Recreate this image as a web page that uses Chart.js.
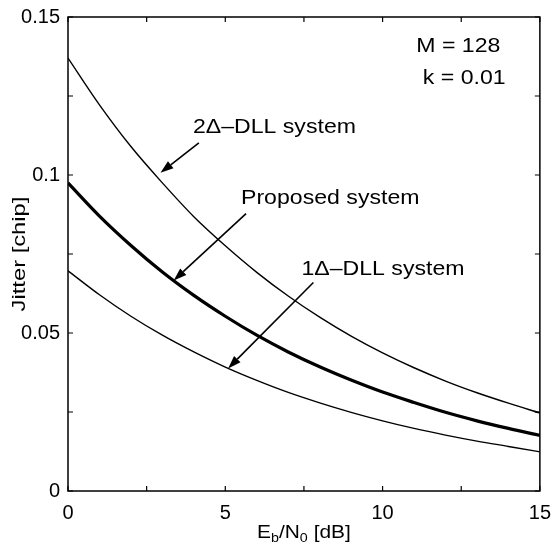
<!DOCTYPE html>
<html>
<head>
<meta charset="utf-8">
<script src="https://cdn.jsdelivr.net/npm/chart.js@4.4.1/dist/chart.umd.min.js"></script>
<style>
  html, body { margin: 0; padding: 0; background: #fff; }
  #wrap { width: 553px; height: 547px; }
</style>
</head>
<body>
<div id="wrap"><canvas id="myChart"></canvas></div>
<script>
// Eb/N0 [dB]
var ebno = [0, 1, 2, 3, 4, 5, 6, 7, 8, 9, 10, 11, 12, 13, 14, 15];
// jitter [chip]
var dll2 = [0.1370, 0.1222, 0.1090, 0.0975, 0.0868, 0.0776, 0.0692, 0.0617, 0.0550, 0.0490, 0.0437, 0.0390, 0.0348, 0.0311, 0.0278, 0.0247];
var proposed = [0.0975, 0.0870, 0.0777, 0.0693, 0.0619, 0.0553, 0.0493, 0.0440, 0.0393, 0.0351, 0.0313, 0.0280, 0.0249, 0.0222, 0.0198, 0.0176];
var dll1 = [0.0697, 0.0621, 0.0553, 0.0493, 0.0440, 0.0392, 0.0350, 0.0312, 0.0279, 0.0249, 0.0222, 0.0198, 0.0177, 0.0158, 0.0141, 0.0124];

var xTicks = [0, 2.5, 5, 7.5, 10, 12.5, 15];
var yTicks = [0, 0.025, 0.05, 0.075, 0.1, 0.125, 0.15];

var FONT = '"Liberation Sans", Arial, Helvetica, sans-serif';

// text labels and arrows, in data units
var notes = [
  {text: 'M = 128', x: 11.07, y: 0.1408},
  {text: 'k = 0.01', x: 11.28, y: 0.1305},
  {text: '2\u0394\u2013DLL system', x: 3.97, y: 0.1150},
  {text: 'Proposed system', x: 5.50, y: 0.0925},
  {text: '1\u0394\u2013DLL system', x: 7.42, y: 0.0702}
];
var arrows = [
  {from: [4.16, 0.1102], to: [2.94, 0.1007]},
  {from: [5.66, 0.0878], to: [3.36, 0.0666]},
  {from: [7.80, 0.0660], to: [5.09, 0.0388]}
];

function toPts(ys) {
  return ebno.map(function(x, i) { return {x: x, y: ys[i]}; });
}

function stretchedText(ctx, str, x, y, sx) {
  ctx.save();
  ctx.translate(x, y);
  ctx.scale(sx, 1);
  ctx.fillText(str, 0, 0);
  ctx.restore();
}

var decor = {
  id: 'decor',
  afterDatasetsDraw: function(chart) {
    var ctx = chart.ctx, a = chart.chartArea;
    var xs = chart.scales.x, ys = chart.scales.y;
    ctx.save();
    ctx.strokeStyle = '#000';
    ctx.fillStyle = '#000';

    // box
    ctx.lineWidth = 1.5;
    ctx.strokeRect(a.left, a.top, a.right - a.left, a.bottom - a.top);

    // inward ticks on all four sides
    ctx.lineWidth = 1.2;
    ctx.beginPath();
    xTicks.forEach(function(v) {
      var px = xs.getPixelForValue(v);
      ctx.moveTo(px, a.bottom); ctx.lineTo(px, a.bottom - 5);
      ctx.moveTo(px, a.top); ctx.lineTo(px, a.top + 5);
    });
    yTicks.forEach(function(v) {
      var py = ys.getPixelForValue(v);
      ctx.moveTo(a.left, py); ctx.lineTo(a.left + 5, py);
      ctx.moveTo(a.right, py); ctx.lineTo(a.right - 5, py);
    });
    ctx.stroke();

    // notes
    ctx.font = '21px ' + FONT;
    ctx.textBaseline = 'middle';
    ctx.textAlign = 'left';
    notes.forEach(function(n) {
      stretchedText(ctx, n.text, xs.getPixelForValue(n.x), ys.getPixelForValue(n.y), 1.1);
    });

    // arrows
    ctx.lineWidth = 1.6;
    arrows.forEach(function(ar) {
      var x1 = xs.getPixelForValue(ar.from[0]), y1 = ys.getPixelForValue(ar.from[1]);
      var x2 = xs.getPixelForValue(ar.to[0]), y2 = ys.getPixelForValue(ar.to[1]);
      var ang = Math.atan2(y2 - y1, x2 - x1);
      var hl = 13, hw = 4.5;
      var bx = x2 - hl * Math.cos(ang), by = y2 - hl * Math.sin(ang);
      ctx.beginPath();
      ctx.moveTo(x1, y1); ctx.lineTo(bx, by);
      ctx.stroke();
      ctx.beginPath();
      ctx.moveTo(x2, y2);
      ctx.lineTo(bx + hw * Math.sin(ang), by - hw * Math.cos(ang));
      ctx.lineTo(bx - hw * Math.sin(ang), by + hw * Math.cos(ang));
      ctx.closePath();
      ctx.fill();
    });

    // x axis title with subscripts
    var big = '19px ' + FONT, small = '13px ' + FONT;
    var parts = [['E', big, 0], ['b', small, 4], ['/N', big, 0], ['0', small, 4], [' [dB]', big, 0]];
    var total = 0;
    parts.forEach(function(p) { ctx.font = p[1]; total += ctx.measureText(p[0]).width * 1.1; });
    var cx = (a.left + a.right) / 2 - total / 2, base = 538;
    ctx.textBaseline = 'alphabetic';
    parts.forEach(function(p) {
      ctx.font = p[1];
      stretchedText(ctx, p[0], cx, base + p[2], 1.1);
      cx += ctx.measureText(p[0]).width * 1.1;
    });

    // y axis title
    ctx.save();
    ctx.translate(25, (a.top + a.bottom) / 2);
    ctx.rotate(-Math.PI / 2);
    ctx.scale(1.25, 1);
    ctx.font = '19px ' + FONT;
    ctx.textAlign = 'center';
    ctx.fillText('Jitter [chip]', 0, 0);
    ctx.restore();

    ctx.restore();
  }
};

function createChart() {
  var ctx = document.getElementById('myChart');
  new Chart(ctx, {
    type: 'line',
    data: {
      datasets: [
        {label: '2\u0394-DLL system', data: toPts(dll2), borderColor: '#000', borderWidth: 1.4},
        {label: 'Proposed system', data: toPts(proposed), borderColor: '#000', borderWidth: 3.2},
        {label: '1\u0394-DLL system', data: toPts(dll1), borderColor: '#000', borderWidth: 1.4}
      ]
    },
    options: {
      responsive: true,
      maintainAspectRatio: false,
      animation: false,
      layout: {padding: {left: 0, right: 10, top: 17, bottom: 0}},
      elements: {
        point: {radius: 0},
        line: {fill: false, cubicInterpolationMode: 'monotone'}
      },
      plugins: {legend: {display: false}, tooltip: {enabled: false}},
      scales: {
        x: {
          type: 'linear', min: 0, max: 15,
          grid: {display: false}, border: {display: false},
          ticks: {stepSize: 5, padding: 2, color: '#000', font: {family: FONT, size: 20}},
          afterFit: function(s) { s.height = 56; }
        },
        y: {
          min: 0, max: 0.15,
          grid: {display: false}, border: {display: false},
          ticks: {
            stepSize: 0.05, padding: 0, color: '#000', font: {family: FONT, size: 20},
            callback: function(v) { return String(Math.round(v * 100) / 100); }
          },
          afterFit: function(s) { s.width = 68; }
        }
      }
    },
    plugins: [decor]
  });
}

createChart();
</script>
</body>
</html>
